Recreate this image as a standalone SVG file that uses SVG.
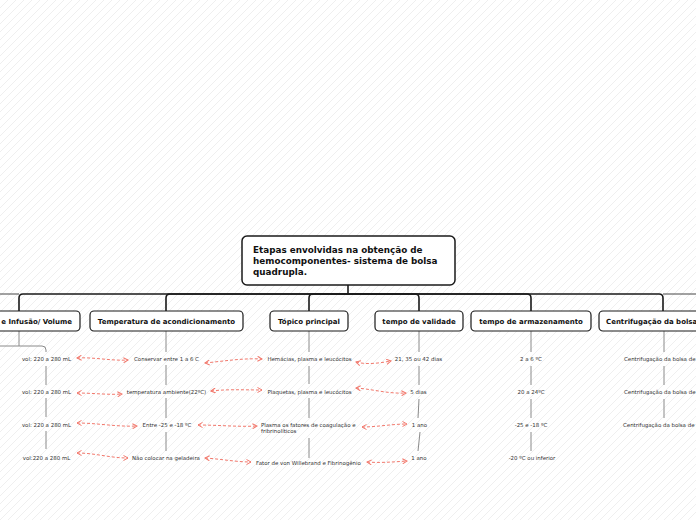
<svg xmlns="http://www.w3.org/2000/svg" width="696" height="520" viewBox="0 0 696 520">
<defs>
<pattern id="hatch" width="8" height="8" patternUnits="userSpaceOnUse">
<path d="M-2,2 L2,-2 M0,8 L8,0 M6,10 L10,6" stroke="#efefef" stroke-width="1"/>
</pattern>
<marker id="ah" viewBox="0 0 6 6" refX="5" refY="3" markerWidth="6" markerHeight="6" markerUnits="userSpaceOnUse" orient="auto-start-reverse">
<path d="M0.5,0.5 L5,3 L0.5,5.5" fill="none" stroke="#f2786c" stroke-width="1"/>
</marker>
</defs>
<style>
.root{fill:#fff;stroke:#1a1a1a;stroke-width:1.5}
.box{fill:#fff;stroke:#1a1a1a;stroke-width:1.2}
.t0{font-family:"DejaVu Sans",Verdana,sans-serif;font-weight:bold;font-size:8.8px;fill:#111}
.t1{font-family:"DejaVu Sans",Verdana,sans-serif;font-weight:bold;font-size:7px;fill:#111;text-anchor:middle}
.t2{font-family:"DejaVu Sans",Verdana,sans-serif;font-size:5.45px;fill:#333;text-anchor:middle}
.l1{fill:none;stroke:#1a1a1a;stroke-width:1.6}
.l2{fill:none;stroke:#8a8a8a;stroke-width:1}
.rel{fill:none;stroke:#f2786c;stroke-width:1;stroke-dasharray:3,2;marker-start:url(#ah);marker-end:url(#ah)}
</style>
<rect width="696" height="520" fill="#fff"/>
<rect width="696" height="520" fill="url(#hatch)"/>

<g id="connectors">
<path class="l1" d="M348,285 V294"/>
<path class="l1" d="M348,294 H23 Q19,294 19,298 V311"/>
<path class="l1" d="M348,294 H170 Q166,294 166,298 V311"/>
<path class="l1" d="M348,294 H313 Q309,294 309,298 V311"/>
<path class="l1" d="M348,294 H415 Q419,294 419,298 V311"/>
<path class="l1" d="M348,294 H527 Q531,294 531,298 V311"/>
<path class="l1" d="M348,294 H659 Q663,294 663,298 V311"/>
<path d="M0,294 H19 M663,294 H696" stroke="#444" stroke-width="1" fill="none"/>
<path class="l2" d="M19,331 V346"/>
<path class="l2" d="M0,346 H42 Q46,346 46,350 V352"/>
<path class="l2" d="M46,366 V385 M46,398 V417 M46,431 V449"/>
<path class="l2" d="M166,331 V352 M166,365 V385 M166,398 V418 M166,432 V451"/>
<path class="l2" d="M309,331 V352 M309,366 V384 M309,398 V418 M309,438 V458"/>
<path class="l2" d="M419,331 V352 M419,366 V385 M419,399 L418,418 M420,432 L418,451"/>
<path class="l2" d="M531,331 V352 M531,366 V385 M531,399 V418 M531,432 V451"/>
<path class="l2" d="M664,331 V352 M664,366 V385 M664,399 V418"/>
<path class="rel" d="M77,358 C95,357 110,361 128,360"/>
<path class="rel" d="M77,393 C92,393 108,395 122,394"/>
<path class="rel" d="M77,423 C97,423 117,427 137,426"/>
<path class="rel" d="M77,453 C95,453 110,458 128,458"/>
<path class="rel" d="M205,363 C225,361 243,358 262,359"/>
<path class="rel" d="M211,391 C228,389 245,390 262,390"/>
<path class="rel" d="M198,425 C218,425 238,427 257,426"/>
<path class="rel" d="M205,458 C221,459 236,462 251,462"/>
<path class="rel" d="M356,362 C367,365 380,363 391,361"/>
<path class="rel" d="M356,388 C372,389 388,394 406,393"/>
<path class="rel" d="M362,427 C377,427 392,424 407,424"/>
<path class="rel" d="M367,462 C380,463 393,462 407,461"/>
</g>

<g id="root">
<rect class="root" x="242" y="236" width="213" height="49" rx="5"/>
<text class="t0" x="253" y="253">Etapas envolvidas na obtenção de</text>
<text class="t0" x="253" y="264">hemocomponentes- sistema de bolsa</text>
<text class="t0" x="253" y="275">quadrupla.</text>
</g>

<g id="n-volume">
<rect class="box" x="-50" y="311" width="130" height="20" rx="4"/>
<text class="t1" x="72" y="323.5" style="text-anchor:end">e Infusão/ Volume</text>
</g>
<g id="n-temperatura">
<rect class="box" x="90" y="311" width="153" height="20" rx="4"/>
<text class="t1" x="166.5" y="323.5">Temperatura de acondicionamento</text>
</g>
<g id="n-topico">
<rect class="box" x="270" y="311" width="78" height="20" rx="4"/>
<text class="t1" x="309" y="323.5">Tópico principal</text>
</g>
<g id="n-validade">
<rect class="box" x="375" y="311" width="88" height="20" rx="4"/>
<text class="t1" x="419" y="323.5">tempo de validade</text>
</g>
<g id="n-armazenamento">
<rect class="box" x="471" y="311" width="120" height="20" rx="4"/>
<text class="t1" x="531" y="323.5">tempo de armazenamento</text>
</g>
<g id="n-centrifugacao">
<rect class="box" x="599" y="311" width="130" height="20" rx="4"/>
<text class="t1" x="606" y="323.5" style="text-anchor:start">Centrifugação da bolsa</text>
</g>

<g id="n-vol1"><text class="t2" x="46.5" y="361">vol: 220 a 280 mL</text></g>
<g id="n-vol2"><text class="t2" x="46.5" y="394">vol: 220 a 280 mL</text></g>
<g id="n-vol3"><text class="t2" x="46.5" y="427">vol: 220 a 280 mL</text></g>
<g id="n-vol4"><text class="t2" x="46.5" y="460">vol:220 a 280 mL</text></g>

<g id="n-temp1"><text class="t2" x="166.5" y="361">Conservar entre 1 a 6 C</text></g>
<g id="n-temp2"><text class="t2" x="166.5" y="394">temperatura ambiente(22ºC)</text></g>
<g id="n-temp3"><text class="t2" x="167" y="427">Entre -25 e -18 ºC</text></g>
<g id="n-temp4"><text class="t2" x="166" y="460">Não colocar na geladeira</text></g>

<g id="n-top1"><text class="t2" x="309.5" y="361">Hemácias, plasma e leucócitos</text></g>
<g id="n-top2"><text class="t2" x="309.5" y="394">Plaquetas, plasma e leucócitos</text></g>
<g id="n-top3"><text class="t2" x="261" y="427" style="text-anchor:start">Plasma os fatores de coagulação e</text><text class="t2" x="261" y="433" style="text-anchor:start">fribrinolíticos</text></g>
<g id="n-top4"><text class="t2" x="308.5" y="465">Fator de von Willebrand e Fibrinogênio</text></g>

<g id="n-val1"><text class="t2" x="418.5" y="361">21, 35 ou 42 dias</text></g>
<g id="n-val2"><text class="t2" x="418.5" y="394">5 dias</text></g>
<g id="n-val3"><text class="t2" x="419.5" y="427">1 ano</text></g>
<g id="n-val4"><text class="t2" x="419" y="460">1 ano</text></g>

<g id="n-arm1"><text class="t2" x="531" y="361">2 a 6 ºC</text></g>
<g id="n-arm2"><text class="t2" x="531" y="394">20 a 24ºC</text></g>
<g id="n-arm3"><text class="t2" x="531" y="427">-25 e -18 ºC</text></g>
<g id="n-arm4"><text class="t2" x="532" y="460">-20 ºC ou inferior</text></g>

<g id="n-cen1"><text class="t2" x="624" y="361" style="text-anchor:start">Centrifugação da bolsa de</text></g>
<g id="n-cen2"><text class="t2" x="624" y="394" style="text-anchor:start">Centrifugação da bolsa de</text></g>
<g id="n-cen3"><text class="t2" x="623" y="427" style="text-anchor:start">Centrifugação da bolsa de</text></g>
</svg>
